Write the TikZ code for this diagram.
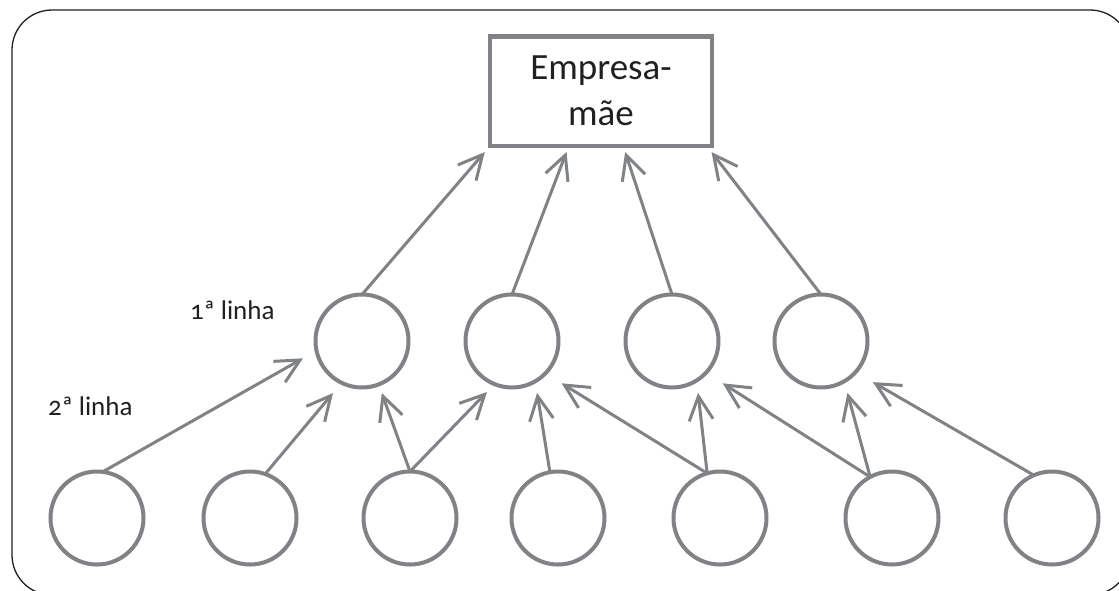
\documentclass[tikz,border=0pt]{standalone}
\usepackage{fontspec}
\setmainfont[Numbers=OldStyle]{Carlito}
\usetikzlibrary{arrows.meta,calc}
\definecolor{lg}{RGB}{128,130,133}
\definecolor{tx}{RGB}{35,31,32}
\begin{document}
\begin{tikzpicture}[x=1pt,y=-1pt,
  circ/.style={circle,draw=lg,line width=4pt,minimum size=93pt,inner sep=0pt,outer sep=0pt},
  arr/.style={draw=lg,line width=3pt,-{Straight Barb[length=24pt,width=24pt]}},
  lbl/.style={text=tx,font=\fontsize{27}{32}\selectfont,anchor=base west,inner sep=0pt},
  boxst/.style={draw=lg,line width=4.5pt,minimum width=222pt,minimum height=109.5pt,
    align=center,text=tx,font=\fontsize{37}{46}\selectfont,inner sep=0pt,outer sep=0pt}]
\useasboundingbox (0,0) rectangle (1119,590);
\clip (0,0) rectangle (1119,590);
\draw[tx,line width=1.3pt,rounded corners=40pt] (12,10) rectangle (1130,595);
% box
\node[boxst] (box) at (601,91.25) {Empresa-\\mãe};
% first row
\node[circ] (C1) at (362,341) {};
\node[circ] (C2) at (512,341) {};
\node[circ] (C3) at (672,341) {};
\node[circ] (C4) at (821,341) {};
% second row
\node[circ] (c1) at (97,518) {};
\node[circ] (c2) at (250,518) {};
\node[circ] (c3) at (410,518) {};
\node[circ] (c4) at (558,518) {};
\node[circ] (c5) at (720,518) {};
\node[circ] (c6) at (892,518) {};
\node[circ] (c7) at (1052,518) {};
% labels
\node[lbl] (l1) at (190,319) {1ª linha};
\node[lbl] (l2) at (48,415) {2ª linha};
% arrows second row -> first row
\draw[arr,shorten >=15.5pt] (c1.83) -- (C1.192);
\draw[arr,shorten >=13.4pt] (c2.71) -- (C1.244);
\draw[arr,shorten >=9.2pt] (c3.90) -- (C1.291);
\draw[arr,shorten >=11pt] (c3.90) -- (C2.248);
\draw[arr,shorten >=11.8pt] (c4.100) -- (C2.300);
\draw[arr,shorten >=19pt] (c5.106) -- (C2.316);
\draw[arr,shorten >=12.6pt] (c5.106) -- (C3.302);
\draw[arr,shorten >=19.8pt] (c6.118) -- (C3.317);
\draw[arr,shorten >=12pt] (c6.118) -- (C4.300);
\draw[arr,shorten >=20pt] (c7.113) -- (C4.318);
% arrows first row -> box
\draw[arr,shorten >=8pt] (C1.north) -- (box.south west);
\draw[arr,shorten >=6.4pt] (C2.north) -- ($(box.south west)!0.355!(box.south east)$);
\draw[arr,shorten >=6.3pt] (C3.north) -- ($(box.south west)!0.6!(box.south east)$);
\draw[arr,shorten >=7.6pt] (C4.north) -- ($(box.south west)!0.977!(box.south east)$);
\end{tikzpicture}
\end{document}
